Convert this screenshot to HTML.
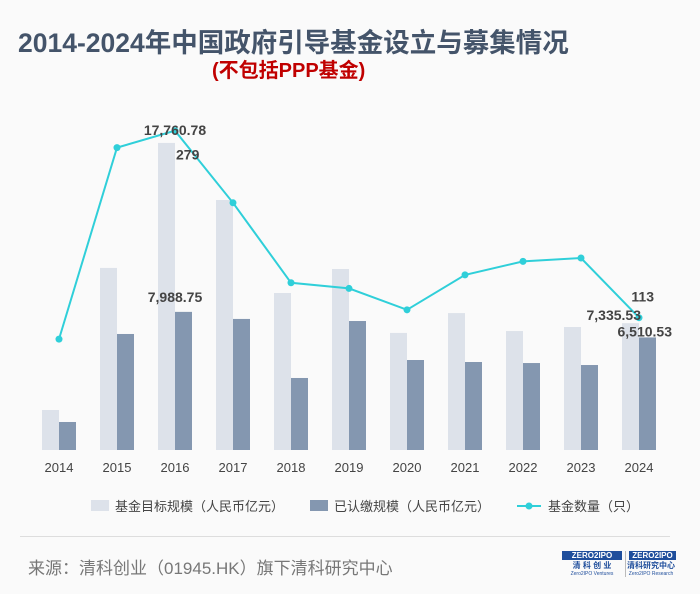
<!DOCTYPE html>
<html><head><meta charset="utf-8"><style>
body{margin:0;width:700px;height:594px;background:#fafafa;font-family:"Liberation Sans","Noto Sans CJK SC",sans-serif;overflow:hidden;position:relative}
.t{position:absolute;white-space:nowrap}
</style></head><body>
<div class="t" style="left:18px;top:21px;font-size:26.5px;font-weight:bold;color:#44546a">2014-2024年中国政府引导基金设立与募集情况</div>
<div class="t" style="left:212px;top:54px;font-size:20px;font-weight:bold;color:#c00000">(不包括PPP基金)</div>
<svg id="chart" width="700" height="594" style="position:absolute;left:0;top:0"></svg>
<div style="position:absolute;left:20px;top:536px;width:650px;height:1px;background:#ddd"></div>
<div class="t" style="left:28px;top:554px;font-size:17px;color:#777">来源：清科创业（01945.HK）旗下清科研究中心</div>
<div style="position:absolute;left:562px;top:551px;width:60px;font-size:7px;color:#1f4e9c;text-align:center"><div style="background:#1f4e9c;color:#fff;font-weight:bold;font-size:8px">ZERO2IPO</div><div style="font-weight:bold;font-size:8px">清 科 创 业</div><div style="font-size:5px">Zero2IPO Ventures</div></div>
<div style="position:absolute;left:625px;top:551px;width:50px;font-size:7px;color:#1f4e9c;text-align:center;border-left:1px solid #bbb"><div style="background:#1f4e9c;color:#fff;font-weight:bold;font-size:8px;margin-left:3px">ZERO2IPO</div><div style="font-weight:bold;font-size:8px">清科研究中心</div><div style="font-size:5px">Zero2IPO Research</div></div>
<script>
const years=["2014","2015","2016","2017","2018","2019","2020","2021","2022","2023","2024"];
const target=[2314,10530,17760.78,14460,9080,10470,6770,7920,6880,7115,7335.53];
const paid=[1620,6710,7988.75,7580,4165,7460,5205,5090,5030,4915,6510.53];
const counts=[94,264,279,215,144,139,120,151,163,166,113];
const NS="http://www.w3.org/2000/svg",svg=document.getElementById('chart');
function mk(t,a,txt){const e=document.createElementNS(NS,t);for(const k in a)e.setAttribute(k,a[k]);if(txt!==undefined)e.textContent=txt;svg.appendChild(e);return e;}
const base=450,xs=i=>59+58*i,yb=v=>base-v*0.01729,yl=v=>445-v*1.1265;
years.forEach((y,i)=>{
 let r=mk('rect',{x:xs(i)-17,y:yb(target[i]),width:17,height:base-yb(target[i]),fill:'#dde2ea'});
 
 r=mk('rect',{x:xs(i),y:yb(paid[i]),width:17,height:base-yb(paid[i]),fill:'#8497b0'});
 
 const t=mk('text',{x:xs(i),y:472,'text-anchor':'middle','font-size':13,fill:'#444'},y);
 
});
const pl=mk('polyline',{points:counts.map((v,i)=>xs(i)+','+yl(v)).join(' '),fill:'none',stroke:'#2fcfd9','stroke-width':2});

counts.forEach((v,i)=>{const c=mk('circle',{cx:xs(i),cy:yl(v),r:3.5,fill:'#2fcfd9'});
 });
const lbl=[[xs(2),yb(target[2])-8,target[2].toLocaleString('en-US',{minimumFractionDigits:2}),'middle'],
 [xs(2)+1,yl(counts[2])+29,String(counts[2]),'start'],
 [xs(2),yb(paid[2])-10,paid[2].toLocaleString('en-US',{minimumFractionDigits:2}),'middle'],
 [xs(10)+15,yl(counts[10])-16,String(counts[10]),'end'],
 [xs(10)+2,yb(target[10])-3,target[10].toLocaleString('en-US',{minimumFractionDigits:2}),'end'],
 [xs(10)+33,yb(paid[10])-1,paid[10].toLocaleString('en-US',{minimumFractionDigits:2}),'end']];
lbl.forEach((l,k)=>{const t=mk('text',{x:l[0],y:l[1],'text-anchor':l[3],'font-size':14,'font-weight':'bold',fill:'#444'},l[2]);
 });
const lg=[[91,'rect','#dde2ea','基金目标规模（人民币亿元）'],[310,'rect','#8497b0','已认缴规模（人民币亿元）'],[517,'line','#2fcfd9','基金数量（只）']];
lg.forEach(g=>{let m;
 if(g[1]=='rect'){m=mk('rect',{x:g[0],y:500,width:18,height:11,fill:g[2]});}
 else{m=mk('line',{x1:g[0],y1:506,x2:g[0]+24,y2:506,stroke:g[2],'stroke-width':2});mk('circle',{cx:g[0]+12,cy:506,r:3.5,fill:g[2]});}
 
 const t=mk('text',{x:g[0]+(g[1]=='rect'?24:31),y:511,'font-size':13,fill:'#444'},g[3]);
 });
</script>
</body></html>
